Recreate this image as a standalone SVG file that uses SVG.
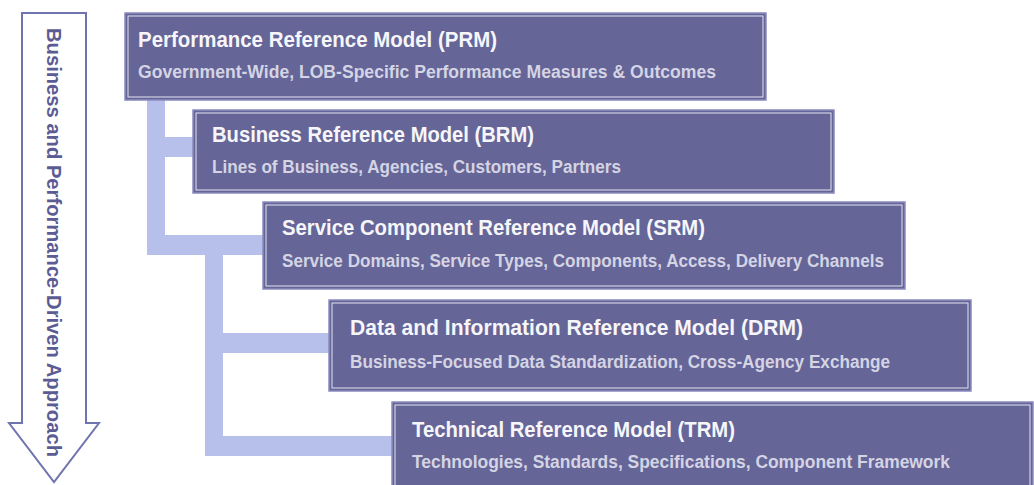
<svg xmlns="http://www.w3.org/2000/svg" width="1034" height="485" viewBox="0 0 1034 485">
<style>
.box{fill:#656597;stroke:#8a8abf;stroke-width:1.5}
.inner{fill:none;stroke:#e4e4f2;stroke-width:1}
.t{font-family:"Liberation Sans",Arial,sans-serif;font-weight:bold;font-size:22.5px;fill:#f6f6fa}
.s{font-family:"Liberation Sans",Arial,sans-serif;font-weight:bold;font-size:17.5px;fill:#d4d4e4}
.conn{fill:#b7c0ea}
.arr{fill:#ffffff;stroke:#6f74b0;stroke-width:2}
.at{font-family:"Liberation Sans",Arial,sans-serif;font-weight:bold;font-size:20.5px;fill:#5c5c94}
</style>
<rect width="1034" height="485" fill="#ffffff"/>
<g id="connectors">
<rect class="conn" x="147" y="100" width="18" height="155"/>
<rect class="conn" x="165" y="137" width="28" height="20"/>
<rect class="conn" x="147" y="235" width="116" height="20"/>
<rect class="conn" x="205" y="255" width="18" height="201"/>
<rect class="conn" x="223" y="333" width="106" height="20"/>
<rect class="conn" x="205" y="436" width="187" height="20"/>
</g>
<g id="arrow">
<path class="arr" d="M22,13 L86,13 L86,423 L99,423 L54,482 L9,423 L22,423 Z"/>
<text class="at" transform="translate(47,28) rotate(90)" textLength="429" lengthAdjust="spacingAndGlyphs">Business and Performance-Driven Approach</text>
</g>
<g id="prm">
<rect class="box" x="125" y="13" width="641" height="87"/>
<rect class="inner" x="128" y="16" width="635" height="81"/>
<text class="t" x="138" y="47" textLength="359" lengthAdjust="spacingAndGlyphs">Performance Reference Model (PRM)</text>
<text class="s" x="138" y="78" textLength="578" lengthAdjust="spacingAndGlyphs">Government-Wide, LOB-Specific Performance Measures &amp; Outcomes</text>
</g>
<g id="brm">
<rect class="box" x="193" y="110" width="641" height="83"/>
<rect class="inner" x="196" y="113" width="635" height="77"/>
<text class="t" x="212" y="142" textLength="322" lengthAdjust="spacingAndGlyphs">Business Reference Model (BRM)</text>
<text class="s" x="212" y="173" textLength="409" lengthAdjust="spacingAndGlyphs">Lines of Business, Agencies, Customers, Partners</text>
</g>
<g id="srm">
<rect class="box" x="263" y="202" width="642" height="87"/>
<rect class="inner" x="266" y="205" width="636" height="81"/>
<text class="t" x="282" y="235" textLength="423" lengthAdjust="spacingAndGlyphs">Service Component Reference Model (SRM)</text>
<text class="s" x="282" y="267" textLength="602" lengthAdjust="spacingAndGlyphs">Service Domains, Service Types, Components, Access, Delivery Channels</text>
</g>
<g id="drm">
<rect class="box" x="329" y="300" width="642" height="91"/>
<rect class="inner" x="332" y="303" width="636" height="85"/>
<text class="t" x="350" y="335" textLength="453" lengthAdjust="spacingAndGlyphs">Data and Information Reference Model (DRM)</text>
<text class="s" x="350" y="368" textLength="540" lengthAdjust="spacingAndGlyphs">Business-Focused Data Standardization, Cross-Agency Exchange</text>
</g>
<g id="trm">
<rect class="box" x="392" y="402" width="641" height="92"/>
<rect class="inner" x="395" y="405" width="635" height="86"/>
<text class="t" x="412" y="437" textLength="323" lengthAdjust="spacingAndGlyphs">Technical Reference Model (TRM)</text>
<text class="s" x="412" y="468" textLength="538" lengthAdjust="spacingAndGlyphs">Technologies, Standards, Specifications, Component Framework</text>
</g>
</svg>
